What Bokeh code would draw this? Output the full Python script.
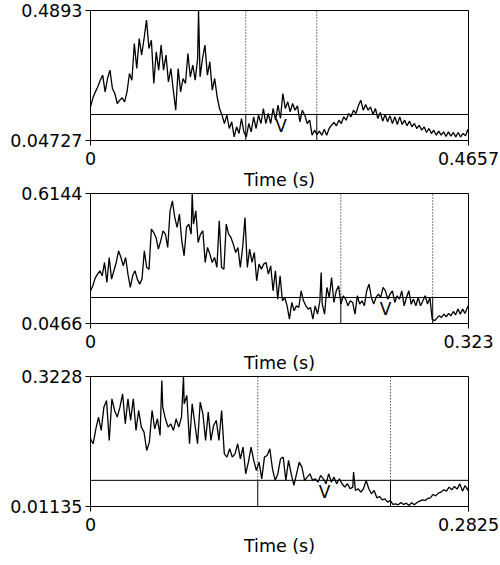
from bokeh.plotting import figure
from bokeh.models import Range1d, FixedTicker, Span
from bokeh.layouts import column
from bokeh.embed import file_html
from bokeh.resources import INLINE
from bokeh.core.properties import value

# ---------------- Panel 1 ----------------
t1 = [0.000, 0.003, 0.006, 0.009, 0.012, 0.015, 0.018, 0.021, 0.024, 0.027,
      0.030, 0.033, 0.036, 0.039, 0.042, 0.045, 0.048, 0.051, 0.054, 0.057,
      0.060, 0.063, 0.066, 0.069, 0.072, 0.075, 0.078, 0.081, 0.084, 0.087,
      0.090, 0.093, 0.096, 0.099, 0.102, 0.105, 0.108, 0.111, 0.114, 0.117,
      0.120, 0.123, 0.126, 0.129, 0.132, 0.1331, 0.135, 0.138, 0.141, 0.144,
      0.147, 0.150, 0.153, 0.156, 0.159, 0.162, 0.165, 0.168, 0.171, 0.174,
      0.177, 0.180, 0.183, 0.186, 0.189, 0.192, 0.195, 0.198, 0.201, 0.204,
      0.207, 0.210, 0.213, 0.216, 0.219, 0.222, 0.225, 0.228, 0.231, 0.234,
      0.237, 0.240, 0.243, 0.246, 0.249, 0.252, 0.255, 0.258, 0.261, 0.264,
      0.267, 0.270, 0.273, 0.276, 0.279, 0.282, 0.285, 0.288, 0.291, 0.294,
      0.297, 0.300, 0.303, 0.306, 0.309, 0.312, 0.315, 0.318, 0.321, 0.324,
      0.327, 0.330, 0.333, 0.336, 0.339, 0.342, 0.345, 0.348, 0.351, 0.354,
      0.357, 0.360, 0.363, 0.366, 0.369, 0.372, 0.375, 0.378, 0.381, 0.384,
      0.387, 0.390, 0.393, 0.396, 0.399, 0.402, 0.405, 0.408, 0.411, 0.414,
      0.417, 0.420, 0.423, 0.426, 0.429, 0.432, 0.435, 0.438, 0.441, 0.444,
      0.447, 0.450, 0.453, 0.456, 0.459, 0.462, 0.465, 0.4657]
v1 = [0.1617, 0.1924, 0.2127, 0.2298, 0.2524, 0.2694, 0.2127, 0.2581, 0.2864, 0.2241,
      0.2071, 0.1731, 0.1844, 0.1924, 0.1787, 0.2127, 0.2751, 0.2524, 0.3771, 0.2921,
      0.3941, 0.3374, 0.3941, 0.4564, 0.3601, 0.3884, 0.2411, 0.3488, 0.2864, 0.3714,
      0.2864, 0.3374, 0.2468, 0.2921, 0.2184, 0.1504, 0.2921, 0.2127, 0.2581, 0.2411,
      0.3431, 0.2638, 0.3034, 0.2524, 0.3261, 0.4893, 0.2638, 0.3261, 0.3714, 0.2694,
      0.3148, 0.2184, 0.2581, 0.1957, 0.1561, 0.1334, 0.1051, 0.1334, 0.0881, 0.1107,
      0.0597, 0.0937, 0.0711, 0.1221, 0.0767, 0.0597, 0.1051, 0.0767, 0.1277, 0.0881,
      0.1334, 0.1051, 0.1561, 0.1051, 0.1391, 0.1051, 0.1561, 0.1164, 0.1674, 0.1221,
      0.2071, 0.1561, 0.1787, 0.1447, 0.1731, 0.1504, 0.1651, 0.1107, 0.1504, 0.1334,
      0.1051, 0.1164, 0.0654, 0.0824, 0.0677, 0.0790, 0.0654, 0.0858, 0.0654, 0.0881,
      0.0994, 0.1085, 0.0972, 0.1164, 0.1051, 0.1277, 0.1164, 0.1391, 0.1277, 0.1504,
      0.1391, 0.1651, 0.1844, 0.1504, 0.1697, 0.1504, 0.1617, 0.1357, 0.1561, 0.1221,
      0.1425, 0.1130, 0.1357, 0.1107, 0.1311, 0.1051, 0.1277, 0.1017, 0.1277, 0.1017,
      0.1164, 0.0972, 0.1130, 0.0937, 0.1051, 0.0881, 0.0994, 0.0824, 0.0937, 0.0745,
      0.0881, 0.0711, 0.0824, 0.0654, 0.0790, 0.0654, 0.0767, 0.0609, 0.0767, 0.0620,
      0.0745, 0.0597, 0.0745, 0.0597, 0.0711, 0.0631, 0.0858, 0.0767]
y1_range = [0.04727, 0.4893]
y1_labels = ["0.04727", "0.4893"]
t1_end, t1_end_label = 0.4657, "0.4657"
level1 = 0.1357
bounds1 = [0.1913, 0.2788]
mark1_t, mark1_v = 0.2347, 0.0956

# ---------------- Panel 2 ----------------
t2 = [0.000, 0.002, 0.004, 0.006, 0.008, 0.010, 0.012, 0.014, 0.016, 0.018,
      0.020, 0.022, 0.024, 0.026, 0.028, 0.030, 0.032, 0.034, 0.036, 0.038,
      0.040, 0.042, 0.044, 0.046, 0.048, 0.050, 0.052, 0.054, 0.056, 0.058,
      0.060, 0.062, 0.064, 0.066, 0.068, 0.070, 0.072, 0.074, 0.076, 0.078,
      0.080, 0.082, 0.084, 0.086, 0.0869, 0.088, 0.090, 0.092, 0.094, 0.096,
      0.098, 0.100, 0.102, 0.104, 0.106, 0.108, 0.110, 0.112, 0.114, 0.116,
      0.118, 0.120, 0.122, 0.124, 0.126, 0.128, 0.130, 0.132, 0.134, 0.136,
      0.138, 0.140, 0.142, 0.144, 0.146, 0.148, 0.150, 0.152, 0.154, 0.156,
      0.158, 0.160, 0.162, 0.164, 0.166, 0.168, 0.170, 0.172, 0.174, 0.176,
      0.178, 0.180, 0.182, 0.184, 0.186, 0.188, 0.190, 0.192, 0.194, 0.196,
      0.1971, 0.198, 0.200, 0.202, 0.204, 0.206, 0.208, 0.210, 0.212, 0.214,
      0.216, 0.218, 0.220, 0.222, 0.224, 0.226, 0.228, 0.230, 0.232, 0.234,
      0.236, 0.238, 0.240, 0.242, 0.244, 0.246, 0.248, 0.250, 0.252, 0.254,
      0.256, 0.258, 0.260, 0.262, 0.264, 0.266, 0.268, 0.270, 0.272, 0.274,
      0.276, 0.278, 0.280, 0.282, 0.284, 0.286, 0.288, 0.290, 0.292, 0.294,
      0.296, 0.298, 0.300, 0.302, 0.304, 0.306, 0.308, 0.310, 0.312, 0.314,
      0.316, 0.318, 0.320, 0.322, 0.323]
v2 = [0.1894, 0.2113, 0.2448, 0.2622, 0.2768, 0.2549, 0.3132, 0.2258, 0.3350, 0.2404,
      0.2768, 0.3132, 0.3641, 0.3350, 0.2986, 0.3350, 0.2622, 0.2040, 0.2549, 0.2768,
      0.2404, 0.2186, 0.2404, 0.3641, 0.2913, 0.2841, 0.4588, 0.4442, 0.4224, 0.3714,
      0.4078, 0.4515, 0.4369, 0.3787, 0.5389, 0.5825, 0.5097, 0.4661, 0.5243, 0.4078,
      0.3423, 0.4661, 0.4806, 0.4369, 0.6144, 0.4806, 0.5389, 0.4005, 0.4369, 0.4515,
      0.3132, 0.3787, 0.3496, 0.3132, 0.3350, 0.2913, 0.4952, 0.2913, 0.2841, 0.4806,
      0.4369, 0.4224, 0.3933, 0.3569, 0.3787, 0.2913, 0.3787, 0.5097, 0.2913, 0.3714,
      0.3132, 0.3569, 0.2331, 0.3059, 0.2841, 0.3059, 0.3132, 0.2622, 0.2986, 0.1894,
      0.2768, 0.1530, 0.2549, 0.1458, 0.1603, 0.1239, 0.0657, 0.1385, 0.1021, 0.1239,
      0.1166, 0.1894, 0.1458, 0.1239, 0.1094, 0.1166, 0.0657, 0.1239, 0.0875, 0.1458,
      0.2695, 0.1312, 0.0875, 0.2040, 0.1603, 0.2477, 0.1385, 0.1894, 0.2113, 0.1312,
      0.1676, 0.1530, 0.1239, 0.1458, 0.1385, 0.0875, 0.1676, 0.1312, 0.1458, 0.1239,
      0.1894, 0.2186, 0.1603, 0.1312, 0.1603, 0.1749, 0.1603, 0.2040, 0.1894, 0.1530,
      0.1749, 0.1894, 0.1385, 0.1676, 0.1530, 0.1894, 0.1239, 0.1603, 0.1894, 0.1312,
      0.1530, 0.1239, 0.1603, 0.1239, 0.1458, 0.1676, 0.1312, 0.1603, 0.0657, 0.0584,
      0.0701, 0.0802, 0.0730, 0.0875, 0.0759, 0.0904, 0.0802, 0.0992, 0.0846, 0.1094,
      0.0875, 0.1094, 0.0904, 0.1166, 0.1239]
y2_range = [0.0466, 0.6144]
y2_labels = ["0.0466", "0.6144"]
t2_end, t2_end_label = 0.323, "0.323"
level2 = 0.1602
bounds2 = [0.2139, 0.2924]
mark2_t, mark2_v = 0.2521, 0.1095

# ---------------- Panel 3 ----------------
t3 = [0.000, 0.002, 0.004, 0.006, 0.008, 0.010, 0.012, 0.014, 0.016, 0.018,
      0.020, 0.022, 0.024, 0.026, 0.028, 0.030, 0.032, 0.034, 0.036, 0.038,
      0.040, 0.042, 0.044, 0.046, 0.048, 0.050, 0.052, 0.0533, 0.054, 0.056,
      0.058, 0.060, 0.062, 0.064, 0.066, 0.068, 0.0695, 0.070, 0.072, 0.074,
      0.076, 0.078, 0.080, 0.082, 0.084, 0.086, 0.088, 0.090, 0.092, 0.094,
      0.096, 0.098, 0.100, 0.102, 0.104, 0.106, 0.108, 0.110, 0.112, 0.114,
      0.116, 0.118, 0.120, 0.122, 0.124, 0.126, 0.128, 0.130, 0.132, 0.134,
      0.136, 0.138, 0.140, 0.142, 0.144, 0.146, 0.148, 0.150, 0.152, 0.154,
      0.156, 0.158, 0.160, 0.162, 0.164, 0.166, 0.168, 0.170, 0.172, 0.174,
      0.176, 0.178, 0.180, 0.182, 0.184, 0.186, 0.188, 0.190, 0.192, 0.194,
      0.196, 0.1966, 0.198, 0.200, 0.202, 0.204, 0.206, 0.208, 0.210, 0.212,
      0.214, 0.216, 0.218, 0.220, 0.222, 0.224, 0.226, 0.228, 0.230, 0.232,
      0.234, 0.236, 0.238, 0.240, 0.242, 0.244, 0.246, 0.248, 0.250, 0.252,
      0.254, 0.256, 0.258, 0.260, 0.262, 0.264, 0.266, 0.268, 0.270, 0.272,
      0.274, 0.276, 0.278, 0.280, 0.282, 0.2825]
v3 = [0.1736, 0.1616, 0.1975, 0.2255, 0.1935, 0.2494, 0.2654, 0.1696, 0.2694, 0.2415,
      0.2255, 0.2494, 0.2814, 0.2095, 0.2694, 0.2175, 0.2694, 0.1935, 0.2415, 0.2015,
      0.1895, 0.1456, 0.1656, 0.2415, 0.1975, 0.2215, 0.1816, 0.3133, 0.2494, 0.2215,
      0.2015, 0.2095, 0.1935, 0.2215, 0.2015, 0.2255, 0.3228, 0.2574, 0.2774, 0.1616,
      0.2574, 0.2095, 0.1616, 0.2614, 0.2335, 0.1696, 0.2375, 0.1696, 0.2055, 0.2175,
      0.1696, 0.2415, 0.1376, 0.1296, 0.1496, 0.1296, 0.1376, 0.1616, 0.1257, 0.1536,
      0.0897, 0.1177, 0.1536, 0.1217, 0.0977, 0.1177, 0.0777, 0.1296, 0.1336, 0.1496,
      0.1017, 0.0737, 0.0897, 0.1257, 0.1296, 0.0737, 0.1217, 0.0897, 0.0618, 0.0897,
      0.1177, 0.1057, 0.0737, 0.0817, 0.0897, 0.0737, 0.0777, 0.0697, 0.0857, 0.0777,
      0.0658, 0.0897, 0.0697, 0.0817, 0.0658, 0.0777, 0.0658, 0.0578, 0.0658, 0.0538,
      0.0578, 0.0937, 0.0498, 0.0538, 0.0458, 0.0538, 0.0737, 0.0538, 0.0418, 0.0498,
      0.0322, 0.0354, 0.0274, 0.0298, 0.0218, 0.0258, 0.0162, 0.0178, 0.0155, 0.0210,
      0.0162, 0.0194, 0.0139, 0.0202, 0.0155, 0.0210, 0.0242, 0.0274, 0.0258, 0.0306,
      0.0322, 0.0402, 0.0370, 0.0434, 0.0458, 0.0514, 0.0482, 0.0578, 0.0514, 0.0594,
      0.0530, 0.0658, 0.0482, 0.0618, 0.0498, 0.0578]
y3_range = [0.01135, 0.3228]
y3_labels = ["0.01135", "0.3228"]
t3_end, t3_end_label = 0.2825, "0.2825"
level3 = 0.0740
bounds3 = [0.1250, 0.2242]
mark3_t, mark3_v = 0.1750, 0.0470

FONT = "DejaVu Sans"
FS = "17.5px"


def panel(t, v, y_range, y_labels, t_end, t_end_label, level, bounds, mark_t, mark_v):
    y_lo, y_hi = y_range
    p = figure(width=500, height=198, output_backend="svg", toolbar_location=None,
               x_range=Range1d(0, t_end), y_range=Range1d(y_lo, y_hi),
               min_border_left=90, min_border_right=32, min_border_top=10,
               min_border_bottom=58, border_fill_color=None,
               background_fill_color=None, outline_line_color="black",
               outline_line_width=1)
    p.xgrid.visible = False
    p.ygrid.visible = False
    p.line(t, v, line_color="black", line_width=1.3)
    p.add_layout(Span(location=level, dimension="width", line_color="black",
                      line_width=1))
    n = len(bounds)
    p.segment(x0=bounds, y0=[level] * n, x1=bounds, y1=[y_hi] * n,
              line_color="black", line_width=1, line_dash="1 2")
    p.segment(x0=bounds, y0=[y_lo] * n, x1=bounds, y1=[level] * n,
              line_color="black", line_width=1)
    p.text(x=[mark_t], y=[mark_v], text=["V"], text_font=value(FONT),
           text_font_size="17px", text_align="center",
           text_baseline="middle", text_color="black")

    xa = p.xaxis[0]
    xa.ticker = FixedTicker(ticks=[0, t_end])
    xa.major_label_overrides = {0: "0", t_end: t_end_label}
    xa.axis_label = "Time (s)"
    xa.axis_label_text_font = FONT
    xa.axis_label_text_font_size = FS
    xa.axis_label_text_font_style = "normal"
    xa.axis_label_text_color = "black"
    xa.axis_label_standoff = 2
    xa.major_label_standoff = 6

    ya = p.yaxis[0]
    ya.ticker = FixedTicker(ticks=[y_lo, y_hi])
    ya.major_label_overrides = {y_lo: y_labels[0], y_hi: y_labels[1]}
    ya.major_label_standoff = 3

    for ax in (xa, ya):
        ax.axis_line_color = "black"
        ax.major_tick_line_color = "black"
        ax.major_tick_out = 5
        ax.major_tick_in = 0
        ax.minor_tick_line_color = None
        ax.major_label_text_font = FONT
        ax.major_label_text_font_size = FS
        ax.major_label_text_color = "black"
    return p


p1 = panel(t1, v1, y1_range, y1_labels, t1_end, t1_end_label, level1, bounds1, mark1_t, mark1_v)
p2 = panel(t2, v2, y2_range, y2_labels, t2_end, t2_end_label, level2, bounds2, mark2_t, mark2_v)
p3 = panel(t3, v3, y3_range, y3_labels, t3_end, t3_end_label, level3, bounds3, mark3_t, mark3_v)
p2.margin = (-15, 0, 0, 0)
p3.margin = (-15, 0, 0, 0)

layout = column(p1, p2, p3, spacing=0)
open("out.html", "w").write(file_html(layout, INLINE))
